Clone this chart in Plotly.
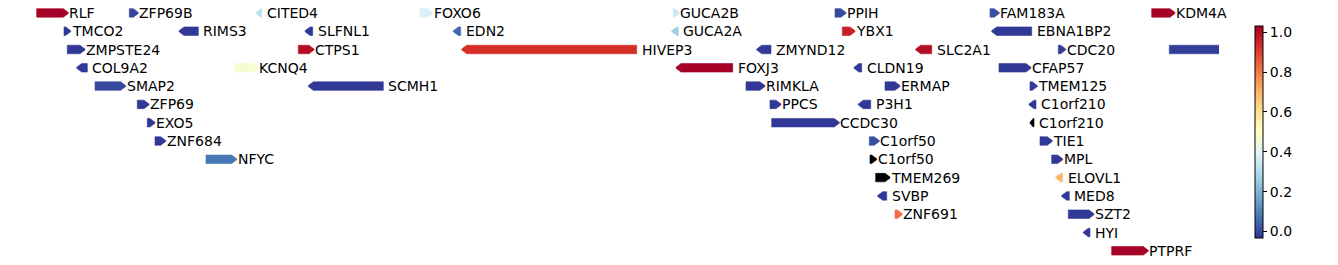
import plotly.graph_objects as go
import numpy as np

# ---------------- data ----------------
gene_names = [
    "RLF", "ZFP69B", "CITED4", "FOXO6", "GUCA2B", "PPIH", "FAM183A", "KDM4A",
    "TMCO2", "RIMS3", "SLFNL1", "EDN2", "GUCA2A", "YBX1", "EBNA1BP2",
    "ZMPSTE24", "CTPS1", "HIVEP3", "ZMYND12", "SLC2A1", "CDC20", "",
    "COL9A2", "KCNQ4", "FOXJ3", "CLDN19", "CFAP57",
    "SMAP2", "SCMH1", "RIMKLA", "ERMAP", "TMEM125",
    "ZFP69", "PPCS", "P3H1", "C1orf210",
    "EXO5", "CCDC30", "C1orf210",
    "ZNF684", "C1orf50", "TIE1",
    "NFYC", "C1orf50", "MPL",
    "TMEM269", "ELOVL1",
    "SVBP", "MED8",
    "ZNF691", "SZT2",
    "HYI",
    "PTPRF",
]
gene_start = [
    36.7, 129.3, 256.0, 420.0, 673.3, 835.0, 990.0, 1151.7,
    64.0, 179.0, 305.0, 453.3, 671.7, 842.3, 991.7,
    67.3, 298.3, 461.7, 756.7, 915.7, 1058.3, 1169.3,
    76.7, 235.0, 676.0, 854.0, 999.0,
    95.0, 308.3, 746.0, 885.0, 1030.0,
    137.3, 770.0, 858.3, 1029.0,
    147.3, 771.7, 1030.0,
    155.0, 869.3, 1040.0,
    206.0, 870.0, 1051.7,
    875.7, 1055.7,
    877.7, 1061.7,
    895.0, 1068.3,
    1083.3,
    1111.7,
]
gene_end = [
    68.3, 138.3, 261.7, 432.7, 679.3, 846.0, 999.3, 1175.0,
    70.7, 198.3, 312.7, 460.7, 678.3, 855.0, 1031.7,
    85.0, 314.0, 636.7, 771.0, 931.7, 1065.7, 1245.0,
    87.3, 258.3, 732.7, 861.7, 1031.0,
    125.7, 383.3, 765.0, 900.0, 1037.3,
    149.0, 781.0, 870.7, 1036.0,
    155.0, 839.3, 1034.0,
    165.7, 879.3, 1052.3,
    236.7, 876.7, 1062.7,
    890.0, 1062.7,
    886.7, 1069.3,
    902.3, 1094.0,
    1090.0,
    1148.3,
]
gene_strand = [
    "+", "+", "-", "+", "+", "+", "+", "+",
    "+", "-", "-", "-", "-", "+", "-",
    "+", "+", "-", "-", "-", "+", "+",
    "-", "+", "-", "-", "+",
    "+", "-", "+", "+", "+",
    "+", "+", "-", "-",
    "+", "+", "-",
    "+", "+", "+",
    "+", "+", "+",
    "+", "-",
    "-", "-",
    "+", "+",
    "-",
    "+",
]
gene_row = [
    0, 0, 0, 0, 0, 0, 0, 0,
    1, 1, 1, 1, 1, 1, 1,
    2, 2, 2, 2, 2, 2, 2,
    3, 3, 3, 3, 3,
    4, 4, 4, 4, 4,
    5, 5, 5, 5,
    6, 6, 6,
    7, 7, 7,
    8, 8, 8,
    9, 9,
    10, 10,
    11, 11,
    12,
    13,
]
gene_value = [
    1.03, -0.01, 0.32, 0.38, 0.35, 0.0, 0.01, 1.03,
    -0.03, -0.03, -0.03, 0.05, 0.265, 0.96, -0.03,
    -0.03, 1.0, 0.93, -0.03, 1.0, -0.02, -0.02,
    -0.03, 0.47, 1.03, -0.03, -0.03,
    0.0, -0.03, -0.03, -0.03, -0.03,
    -0.03, -0.03, -0.03, -0.03,
    -0.03, -0.03, None,
    -0.03, 0.01, -0.03,
    0.075, None, -0.03,
    None, 0.69,
    -0.03, -0.03,
    0.82, -0.03,
    -0.03,
    1.03,
]

cb_min, cb_max = -0.033, 1.032
cb_ticks = [0.0, 0.2, 0.4, 0.6, 0.8, 1.0]
cb_ticktext = ["0.0", "0.2", "0.4", "0.6", "0.8", "1.0"]

# RdYlBu reversed
rdylbu_r = ['#313695', '#4575b4', '#74add1', '#abd9e9', '#e0f3f8', '#ffffbf',
            '#fee090', '#fdae61', '#f46d43', '#d73027', '#a50026']


def hex2rgb(h):
    h = h.lstrip('#')
    return np.array([int(h[i:i + 2], 16) for i in (0, 2, 4)], dtype=float)


cmap_rgb = np.array([hex2rgb(c) for c in rdylbu_r])
cmap_pos = np.linspace(0, 1, len(rdylbu_r))


def value_color(v):
    if v is None:
        return "#000000"
    f = (v - cb_min) / (cb_max - cb_min)
    f = min(max(f, 0.0), 1.0)
    rgb = [np.interp(f, cmap_pos, cmap_rgb[:, k]) for k in range(3)]
    return "rgb(%d,%d,%d)" % tuple(int(round(c)) for c in rgb)


# ---------------- figure ----------------
W, H = 1338, 265
row_px = 18.3
row0_px = 12.9
x_max = 1219.0
half_h = 4.25 / row_px
head_len = 5.0

fig = go.Figure()
annotations = []

for name, s, e, st, r, v in zip(gene_names, gene_start, gene_end,
                                 gene_strand, gene_row, gene_value):
    col = value_color(v)
    L = e - s
    hl = min(head_len, 0.8 * L)
    tip = 0.12 * half_h
    if st == "+":
        xs = [s, e - hl, e, e, e - hl, s, s]
        ys = [r - half_h, r - half_h, r - tip, r + tip, r + half_h, r + half_h, r - half_h]
    else:
        xs = [e, s + hl, s, s, s + hl, e, e]
        ys = [r - half_h, r - half_h, r - tip, r + tip, r + half_h, r + half_h, r - half_h]
    fig.add_trace(go.Scatter(
        x=xs, y=ys, mode="lines", fill="toself", fillcolor=col,
        line=dict(color=col, width=0.6), hoverinfo="text", text=name,
        showlegend=False))
    if name:
        annotations.append(dict(
            x=e, y=r, xref="x", yref="y", text=name, showarrow=False,
            xanchor="left", yanchor="middle",
            xshift=-1 if st == "+" else 3,
            font=dict(family="DejaVu Sans", size=14, color="black")))

# colorbar carrier
fig.add_trace(go.Scatter(
    x=[None, None], y=[None, None], mode="markers", showlegend=False,
    hoverinfo="skip",
    marker=dict(
        color=[cb_min, cb_max], cmin=cb_min, cmax=cb_max,
        colorscale=[[p, c] for p, c in zip(cmap_pos, rdylbu_r)],
        showscale=True,
        colorbar=dict(
            xref="container", yref="container",
            x=1255.3 / W, xanchor="left",
            y=1 - 26.0 / H, yanchor="top",
            len=212.3 / H, lenmode="fraction",
            thickness=8, thicknessmode="pixels",
            xpad=0, ypad=0,
            outlinewidth=1, outlinecolor="black",
            ticks="outside", ticklen=4, tickwidth=1, tickcolor="black",
            tickvals=cb_ticks, ticktext=cb_ticktext,
            tickfont=dict(family="DejaVu Sans", size=14, color="black"),
        ),
    ),
))

y_top = -row0_px / row_px
y_bot = y_top + H / row_px

fig.update_layout(
    width=W, height=H,
    margin=dict(l=0, r=W - x_max, t=0, b=0, pad=0),
    paper_bgcolor="white", plot_bgcolor="white",
    xaxis=dict(range=[0, x_max], visible=False, showgrid=False, zeroline=False),
    yaxis=dict(range=[y_bot, y_top], visible=False, showgrid=False, zeroline=False),
    annotations=annotations,
    showlegend=False,
)

fig.write_html("out.html")
